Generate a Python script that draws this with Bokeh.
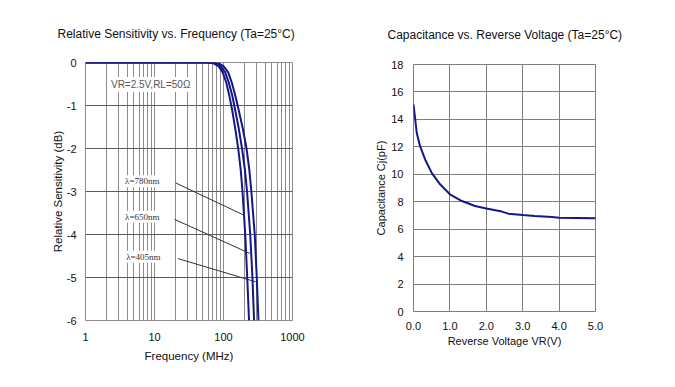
from bokeh.plotting import figure
from bokeh.layouts import row, column
from bokeh.models import FixedTicker, Label, Range1d
from bokeh.embed import file_html
from bokeh.resources import INLINE

# ---------------- data: relative sensitivity vs frequency ----------------
db_levels = [0, 0, -0.02, -0.09, -0.23, -0.46, -0.76, -1.11, -1.53, -2.0, -2.5, -3.0, -4.0, -5.0, -6.0]
freq_780 = [1, 55.2, 72.1, 85.2, 97.4, 109.4, 121.0, 133.7, 147.8, 163.5, 177.7, 188.7, 206.5, 220.8, 234.5]
freq_650 = [1, 59.0, 77.1, 91.1, 105.9, 119.0, 133.7, 147.8, 166.2, 185.6, 204.5, 219.4, 244.1, 262.7, 277.2]
freq_405 = [1, 65.2, 85.2, 100.7, 117.0, 131.5, 147.8, 166.2, 190.0, 215.7, 236.9, 253.2, 283.8, 303.4, 321.1]

freq_ticks = [1, 10, 100, 1000]
freq_tick_labels = ["1", "10", "100", "1000"]
freq_minor = [2, 3, 4, 5, 6, 7, 8, 9, 20, 30, 40, 50, 60, 70, 80, 90,
              200, 300, 400, 500, 600, 700, 800, 900]
db_ticks = [0, -1, -2, -3, -4, -5, -6]
db_tick_labels = ["0", "-1", "-2", "-3", "-4", "-5", "-6"]

wl_labels = ["\u03bb=780nm", "\u03bb=650nm", "\u03bb=405nm"]
wl_label_f = [6.65, 6.65, 6.9]
wl_label_db = [-2.76, -3.59, -4.52]
lead_f0 = [20.2, 19.6, 21.9]
lead_db0 = [-2.80, -3.65, -4.56]
lead_f1 = [198, 241, 293]
lead_db1 = [-3.55, -4.44, -5.10]

cond_text = "VR=2.5V,RL=50\u03a9"
cond_f, cond_db = 8.8, -0.51

title_left = "Relative Sensitivity vs. Frequency (Ta=25\u00b0C)"
title_right = "Capacitance vs. Reverse Voltage (Ta=25\u00b0C)"

# ---------------- data: capacitance vs reverse voltage ----------------
vr = [0, 0.09, 0.18, 0.32, 0.5, 0.73, 1.0, 1.33, 1.69, 2.0, 2.43, 2.6, 3.0, 3.33, 3.8, 4.0, 5.0]
cj = [15.1, 13.0, 12.05, 11.08, 10.1, 9.27, 8.54, 8.05, 7.69, 7.5, 7.28, 7.13, 7.03, 6.96, 6.88, 6.84, 6.8]
vr_ticks = [0, 1, 2, 3, 4, 5]
vr_tick_labels = ["0.0", "1.0", "2.0", "3.0", "4.0", "5.0"]
cj_ticks = [0, 2, 4, 6, 8, 10, 12, 14, 16, 18]

FONT = "Liberation Sans"
CURVE = "#16168a"
GRID_V = "#8c8c8c"
GRID_H = "#5c5c5c"


def style_title(p, offset, standoff):
    p.title.align = "left"
    p.title.offset = offset
    p.title.standoff = standoff
    p.title.text_font = FONT
    p.title.text_font_size = "12px"
    p.title.text_font_style = "normal"
    p.title.text_color = "#111111"


# ---------------- left figure ----------------
p1 = figure(x_axis_type="log", x_range=Range1d(1, 1000), y_range=Range1d(-6, 0),
            frame_width=207, frame_height=258,
            min_border_left=85, min_border_right=46, min_border_top=62, min_border_bottom=42,
            title=title_left, output_backend="svg", toolbar_location=None)
style_title(p1, -28, 44)
p1.outline_line_color = GRID_V

p1.xaxis.ticker = FixedTicker(ticks=freq_ticks, minor_ticks=freq_minor)
p1.xaxis.major_label_overrides = dict(zip(freq_ticks, freq_tick_labels))
p1.yaxis.ticker = FixedTicker(ticks=db_ticks)
p1.yaxis.major_label_overrides = dict(zip(db_ticks, db_tick_labels))
for ax in (p1.xaxis[0], p1.yaxis[0]):
    ax.axis_line_color = None
    ax.major_tick_line_color = None
    ax.minor_tick_line_color = None
    ax.major_label_text_font = FONT
    ax.major_label_text_font_size = "11px"
    ax.major_label_text_color = "#111111"
    ax.axis_label_text_font = FONT
    ax.axis_label_text_font_size = "11.5px"
    ax.axis_label_text_font_style = "normal"
    ax.axis_label_text_color = "#111111"
p1.xaxis.major_label_standoff = 6
p1.yaxis.major_label_standoff = 3
p1.xaxis.axis_label = "Frequency (MHz)"
p1.xaxis.axis_label_standoff = 6
p1.yaxis.axis_label = "Relative Sensitivity (dB)"
p1.yaxis.axis_label_standoff = 0

p1.xgrid.grid_line_color = GRID_V
p1.xgrid.minor_grid_line_color = GRID_V
p1.ygrid.grid_line_color = GRID_H

p1.segment(lead_f0, lead_db0, lead_f1, lead_db1, line_color="#333333", line_width=1)
for f in (freq_780, freq_650, freq_405):
    p1.line(f, db_levels, line_color=CURVE, line_width=2)

for t, f, d in zip(wl_labels, wl_label_f, wl_label_db):
    p1.add_layout(Label(x=f, y=d, text=t, text_align="center", text_baseline="middle",
                        text_font="Liberation Serif", text_font_size="9px", text_color="#333333",
                        background_fill_color="white", padding=1))
p1.add_layout(Label(x=cond_f, y=cond_db, text=cond_text, text_align="center", text_baseline="middle",
                    text_font=FONT, text_font_size="10px", text_color="#555555",
                    background_fill_color="white", padding=2))

# ---------------- right figure ----------------
p2 = figure(x_range=Range1d(0, 5), y_range=Range1d(0, 18),
            frame_width=182, frame_height=247,
            min_border_left=75, min_border_right=60, min_border_top=64, min_border_bottom=50,
            title=title_right, output_backend="svg", toolbar_location=None)
style_title(p2, -26, 46)
p2.outline_line_color = "#7f7f7f"

p2.xaxis.ticker = FixedTicker(ticks=vr_ticks)
p2.xaxis.major_label_overrides = dict(zip(vr_ticks, vr_tick_labels))
p2.yaxis.ticker = FixedTicker(ticks=cj_ticks)
for ax in (p2.xaxis[0], p2.yaxis[0]):
    ax.axis_line_color = None
    ax.major_tick_line_color = None
    ax.minor_tick_line_color = None
    ax.major_label_text_font = FONT
    ax.major_label_text_font_size = "11px"
    ax.major_label_text_color = "#111111"
    ax.axis_label_text_font = FONT
    ax.axis_label_text_font_size = "11px"
    ax.axis_label_text_font_style = "normal"
    ax.axis_label_text_color = "#111111"
p2.xaxis.major_label_standoff = 4
p2.yaxis.major_label_standoff = 4
p2.xaxis.axis_label = "Reverse Voltage VR(V)"
p2.yaxis.axis_label = "Capacitance Cj(pF)"
p2.xaxis.axis_label_standoff = 2
p2.yaxis.axis_label_standoff = 1
p2.xgrid.grid_line_color = "#7f7f7f"
p2.ygrid.grid_line_color = "#7f7f7f"

p2.line(vr, cj, line_color=CURVE, line_width=2)

layout = row(p1, column(p2))
open("out.html", "w").write(file_html(layout, INLINE))
